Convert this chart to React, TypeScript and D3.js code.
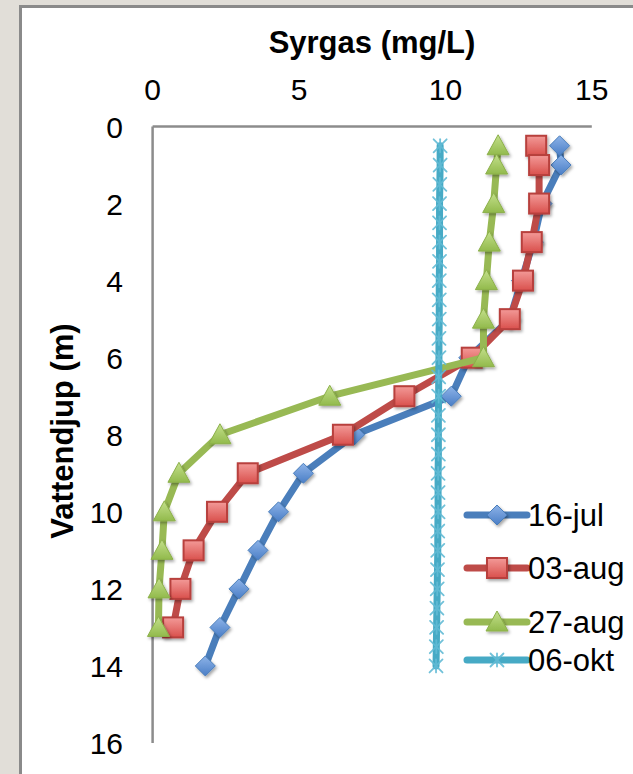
import React from "react";
import * as d3 from "d3";

const depthsMain = [0.5, 1, 2, 3, 4, 5, 6, 7, 8, 9, 10, 11, 12, 13, 14];
const jul16 = [13.9, 13.95, 13.3, 13.0, 12.6, 12.2, 10.8, 10.2, 6.9, 5.15, 4.3, 3.6, 2.95, 2.3, 1.8];
const aug03 = [13.1, 13.2, 13.2, 12.95, 12.65, 12.2, 10.9, 8.6, 6.5, 3.25, 2.2, 1.4, 0.95, 0.7];
const aug27 = [11.8, 11.75, 11.65, 11.5, 11.4, 11.3, 11.3, 6.05, 2.3, 0.9, 0.4, 0.32, 0.22, 0.2];
const oktDepths = [0.5, 1, 1.5, 2, 2.5, 3, 3.5, 4, 4.5, 5, 5.5, 6, 6.5, 7, 7.5, 8, 8.5, 9, 9.5, 10, 10.5, 11, 11.5, 12, 12.5, 13, 13.5, 14];
const okt06 = [9.82, 9.82, 9.81, 9.8, 9.8, 9.8, 9.8, 9.79, 9.79, 9.79, 9.78, 9.78, 9.77, 9.77, 9.76, 9.76, 9.76, 9.75, 9.75, 9.75, 9.74, 9.74, 9.73, 9.72, 9.71, 9.7, 9.69, 9.68];
const seriesNames = ["16-jul", "03-aug", "27-aug", "06-okt"];
const xTicks = [0, 5, 10, 15];
const yTicks = [0, 2, 4, 6, 8, 10, 12, 14, 16];

const FONT = "'Liberation Sans', Arial, sans-serif";

const x = d3.scaleLinear().domain([0, 15]).range([152.6, 591.8]);
const y = d3.scaleLinear().domain([0, 16]).range([126.5, 743]);

const colors = {
  blue: "#4A7EBB",
  red: "#BE4B48",
  green: "#98B954",
  teal: "#46AAC5",
};

type Pt = [number, number];

function Diamond({ cx, cy }: { cx: number; cy: number }) {
  const r = 10;
  return (
    <path
      d={`M${cx},${cy - r}L${cx + r},${cy}L${cx},${cy + r}L${cx - r},${cy}Z`}
      fill="url(#gBlue)"
      stroke="#4A7EBB"
      strokeWidth={1}
      strokeLinejoin="round"
      filter="url(#shadow)"
    />
  );
}
function Square({ cx, cy }: { cx: number; cy: number }) {
  const r = 10;
  return (
    <rect
      x={cx - r}
      y={cy - r}
      width={2 * r}
      height={2 * r}
      fill="url(#gRed)"
      stroke="#B8403D"
      strokeWidth={2}
      filter="url(#shadow)"
    />
  );
}
function Triangle({ cx, cy }: { cx: number; cy: number }) {
  const w = 11;
  const h = 20;
  return (
    <path
      d={`M${cx},${cy - h * 0.55}L${cx + w},${cy + h * 0.45}L${cx - w},${cy + h * 0.45}Z`}
      fill="url(#gGreen)"
      stroke="#8CB04A"
      strokeWidth={1}
      filter="url(#shadow)"
    />
  );
}
function Star({ cx, cy }: { cx: number; cy: number }) {
  const r = 6.5;
  return (
    <g stroke="#62BBD5" strokeWidth={1.8} strokeLinecap="round" opacity={0.9}>
      <line x1={cx - r} y1={cy - r} x2={cx + r} y2={cy + r} />
      <line x1={cx - r} y1={cy + r} x2={cx + r} y2={cy - r} />
      <line x1={cx} y1={cy - r} x2={cx} y2={cy + r} />
    </g>
  );
}

const line = d3
  .line<Pt>()
  .x((d) => x(d[0]))
  .y((d) => y(d[1]));

function toPts(vals: number[], depths: number[]): Pt[] {
  return vals.map((v, i) => [v, depths[i]] as Pt);
}

export default function App() {
  const sBlue = toPts(jul16, depthsMain);
  const sRed = toPts(aug03, depthsMain);
  const sGreen = toPts(aug27, depthsMain);
  const sTeal = toPts(okt06, oktDepths);

  const legendRows = [515, 568, 622, 660];
  const legendX0 = 467;
  const legendX1 = 527;
  const legendMid = (legendX0 + legendX1) / 2;

  const lineProps = {
    fill: "none",
    strokeWidth: 7,
    strokeLinecap: "round" as const,
    strokeLinejoin: "round" as const,
  };

  return (
    <svg
      width={633}
      height={774}
      style={{ position: "absolute", left: 0, top: 0 }}
      fontFamily={FONT}
    >
      <defs>
        <linearGradient id="gBlue" x1="0" y1="0" x2="0" y2="1">
          <stop offset="0" stopColor="#8DB3E8" />
          <stop offset="1" stopColor="#4A7EC6" />
        </linearGradient>
        <linearGradient id="gRed" x1="0" y1="0" x2="0" y2="1">
          <stop offset="0" stopColor="#F39A98" />
          <stop offset="1" stopColor="#D9504C" />
        </linearGradient>
        <linearGradient id="gGreen" x1="0" y1="0" x2="0" y2="1">
          <stop offset="0" stopColor="#C4E08C" />
          <stop offset="1" stopColor="#92BA4C" />
        </linearGradient>
        <filter id="shadow" x="-50%" y="-50%" width="200%" height="200%">
          <feDropShadow dx="1.5" dy="2" stdDeviation="1.5" floodColor="#000" floodOpacity="0.35" />
        </filter>
      </defs>
      <rect x={0} y={0} width={633} height={774} fill="#E1DED8" />
      <rect x={19} y={5} width={700} height={800} fill="#8A8A8A" />
      <rect x={22} y={8} width={700} height={800} fill="#FFFFFF" />

      {/* axes */}
      <line x1={x(0)} y1={y(0)} x2={x(15)} y2={y(0)} stroke="#8C8C8C" strokeWidth={2.5} />
      <line x1={x(0)} y1={y(0)} x2={x(0)} y2={y(16)} stroke="#8C8C8C" strokeWidth={2.5} />

      {xTicks.map((t) => (
        <text key={"xt" + t} x={x(t)} y={100} textAnchor="middle" fontSize={30} fill="#000">
          {t}
        </text>
      ))}
      {yTicks.map((t) => (
        <text key={"yt" + t} x={123} y={y(t) + 11} textAnchor="end" fontSize={30} fill="#000">
          {t}
        </text>
      ))}
      <text x={372} y={53} textAnchor="middle" fontSize={31} fontWeight="bold" fill="#000">
        Syrgas (mg/L)
      </text>
      <text
        transform={`translate(73,431) rotate(-90)`}
        textAnchor="middle"
        fontSize={31}
        fontWeight="bold"
        fill="#000"
      >
        Vattendjup (m)
      </text>

      {/* series */}
      <path d={line(sBlue) || ""} stroke={colors.blue} {...lineProps} />
      {sBlue.map((p, i) => (
        <Diamond key={"b" + i} cx={x(p[0])} cy={y(p[1])} />
      ))}
      <path d={line(sRed) || ""} stroke={colors.red} {...lineProps} />
      {sRed.map((p, i) => (
        <Square key={"r" + i} cx={x(p[0])} cy={y(p[1])} />
      ))}
      <path d={line(sGreen) || ""} stroke={colors.green} {...lineProps} />
      {sGreen.map((p, i) => (
        <Triangle key={"g" + i} cx={x(p[0])} cy={y(p[1])} />
      ))}
      <path d={line(sTeal) || ""} stroke={colors.teal} {...lineProps} />
      {sTeal.map((p, i) => (
        <Star key={"t" + i} cx={x(p[0])} cy={y(p[1])} />
      ))}

      {/* legend */}
      {seriesNames.map((name, i) => {
        const cy = legendRows[i];
        const c = [colors.blue, colors.red, colors.green, colors.teal][i];
        return (
          <g key={"lg" + i}>
            <line x1={legendX0} y1={cy} x2={legendX1} y2={cy} stroke={c} strokeWidth={7} strokeLinecap="round" />
            {i === 0 && <Diamond cx={legendMid} cy={cy} />}
            {i === 1 && <Square cx={legendMid} cy={cy} />}
            {i === 2 && <Triangle cx={legendMid} cy={cy} />}
            {i === 3 && <Star cx={legendMid} cy={cy} />}
            <text x={528} y={cy + 11} fontSize={31} fill="#000">
              {name}
            </text>
          </g>
        );
      })}
    </svg>
  );
}
